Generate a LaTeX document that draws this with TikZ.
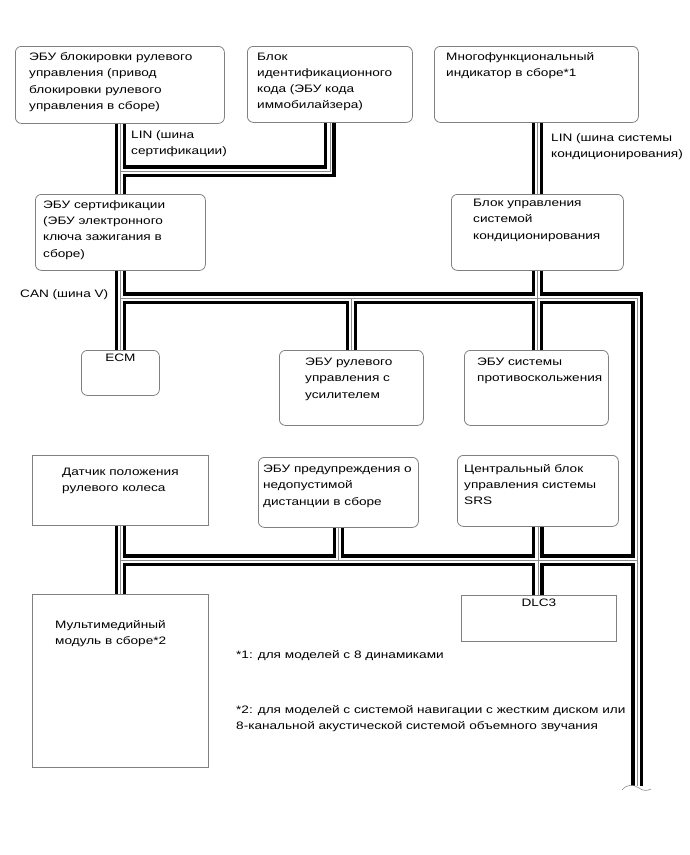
\documentclass[tikz,border=0pt]{standalone}
\usepackage{fontspec}
\setmainfont{Liberation Sans}[FakeStretch=1.26]
\usepackage{tikz}
\usepackage{xcolor}
\definecolor{boxgray}{gray}{0.5}
\definecolor{wiregray}{gray}{0.55}
\newcommand{\busFont}{\fontsize{10.8}{16.2}\selectfont}

\begin{document}
\begin{tikzpicture}[x=1pt,y=-1pt,
  rbox/.style={draw=boxgray, line width=0.8pt, rounded corners=6pt, anchor=north west, inner sep=0pt},
  sbox/.style={draw=boxgray, line width=0.8pt, anchor=north west, inner sep=0pt},
  txt/.style={anchor=north west, inner sep=0pt, align=left, font=\busFont},
  ctxt/.style={anchor=north, inner sep=0pt, font=\busFont}]
\fill[white] (0,0) rectangle (690,855);
\useasboundingbox (0,0) rectangle (690,855);
\node[rbox, minimum width=209pt, minimum height=77pt] (steerlock) at (15,46) {};
\node[rbox, minimum width=165pt, minimum height=76pt] (immo) at (247,46) {};
\node[rbox, minimum width=204pt, minimum height=76pt] (multiind) at (434,46) {};
\node[rbox, minimum width=170pt, minimum height=76pt] (cert) at (35,194) {};
\node[rbox, minimum width=172pt, minimum height=76pt] (aircon) at (451,194) {};
\node[rbox, minimum width=78pt, minimum height=45pt] (ecm) at (81,350) {};
\node[rbox, minimum width=144pt, minimum height=75pt] (eps) at (279,350) {};
\node[rbox, minimum width=144pt, minimum height=75pt] (abs) at (464,350) {};
\node[sbox, minimum width=176pt, minimum height=70pt] (steersens) at (32,455) {};
\node[rbox, minimum width=160pt, minimum height=70pt] (pcs) at (258,457) {};
\node[rbox, minimum width=161pt, minimum height=71pt] (srs) at (457,455) {};
\node[sbox, minimum width=176pt, minimum height=173pt] (media) at (32,594) {};
\node[sbox, minimum width=155pt, minimum height=46pt] (dlc) at (461,595) {};
\coordinate (linjn) at (120,171);
\coordinate (canjn) at (120,298);
\coordinate (lowjn) at (120,560);
\coordinate (trunkend) at (637,786);
\foreach \w/\c in {11.5/black, 5/white, 0.8/wiregray}
  \draw[line width=\w pt, draw=\c]
    (steerlock.south -| cert.north) -- (cert.north)
    (immo.south) |- (linjn)
    (aircon.north |- multiind.south) -- (aircon.north)
    (cert.south) -- (ecm.north)
    (canjn) -| (trunkend)
    (aircon.south) -- (aircon.south |- abs.north)
    (eps.north) -- (eps.north |- canjn)
    (steersens.south) -- (media.north)
    (lowjn) -- (lowjn -| trunkend)
    (pcs.south) -- (pcs.south |- lowjn)
    (srs.south) -- (srs.south |- dlc.north);
\draw[wiregray, line width=0.6pt] (622,790) .. controls (627,784) and (633,784) .. (639,788) .. controls (643,791) and (647,791) .. (651,789);
\node[txt] (steerlock-t) at (29,52.5) {ЭБУ блокировки рулевого\\управления (привод\\блокировки рулевого\\управления в сборе)};
\node[txt] (immo-t) at (257,52.5) {Блок\\идентификационного\\кода (ЭБУ кода\\иммобилайзера)};
\node[txt] (multiind-t) at (446,52) {Многофункциональный\\индикатор в сборе*1};
\node[txt] (lin1-t) at (131,130) {LIN (шина\\сертификации)};
\node[txt] (lin2-t) at (551,133) {LIN (шина системы\\кондиционирования)};
\node[txt] (cert-t) at (43,200.5) {ЭБУ сертификации\\(ЭБУ электронного\\ключа зажигания в\\сборе)};
\node[txt] (aircon-t) at (473,199) {Блок управления\\системой\\кондиционирования};
\node[txt] (can-t) at (20,289) {CAN (шина V)};
\node[ctxt] (ecm-t) at (ecm.north |- 0,354) {ECM};
\node[txt] (eps-t) at (305,358) {ЭБУ рулевого\\управления с\\усилителем};
\node[txt] (abs-t) at (477,358) {ЭБУ системы\\противоскольжения};
\node[txt] (steersens-t) at (62,468) {Датчик положения\\рулевого колеса};
\node[txt] (pcs-t) at (263,465) {ЭБУ предупреждения о\\недопустимой\\дистанции в сборе};
\node[txt] (srs-t) at (464,464) {Центральный блок\\управления системы\\SRS};
\node[txt] (media-t) at (55,620) {Мультимедийный\\модуль в сборе*2};
\node[ctxt] (dlc-t) at (dlc.north |- 0,599) {DLC3};
\node[txt] (note1) at (236,650) {*1: для моделей с 8 динамиками};
\node[txt] (note2) at (236,705) {*2: для моделей с системой навигации с жестким диском или\\8-канальной акустической системой объемного звучания};
\end{tikzpicture}
\end{document}
